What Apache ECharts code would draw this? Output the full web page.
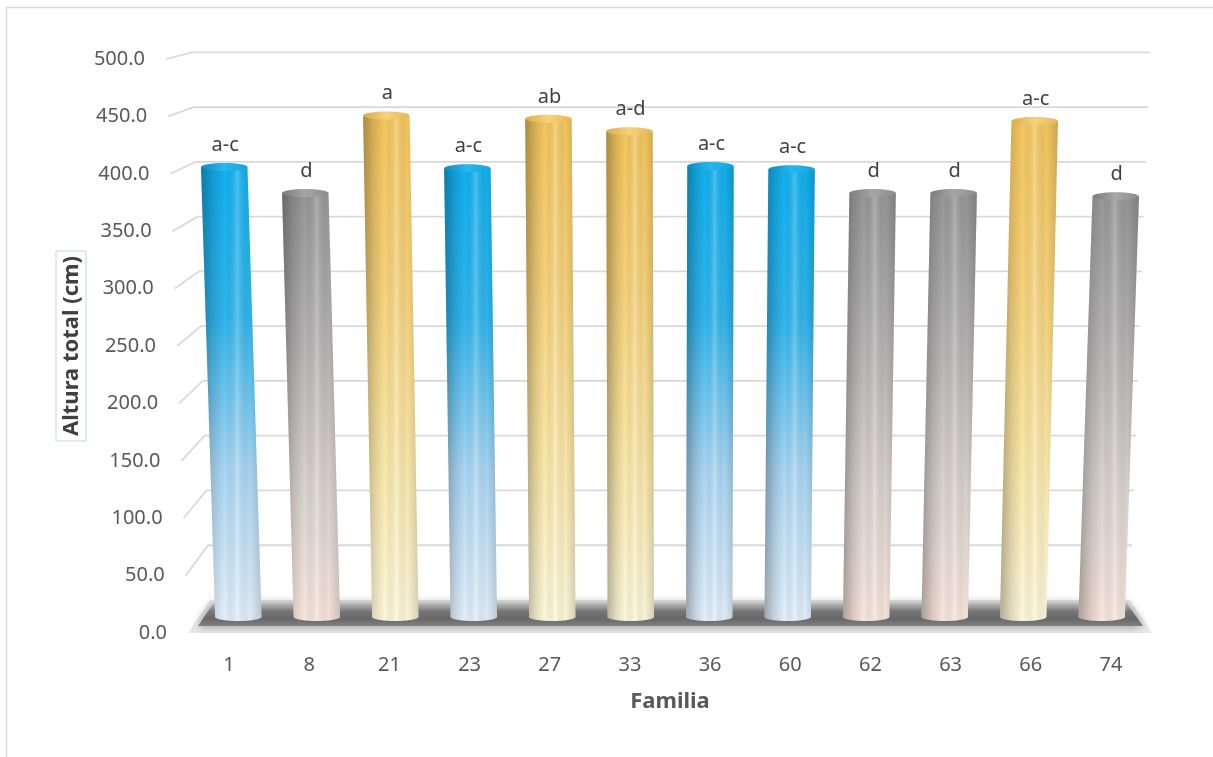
<!DOCTYPE html>
<html>
<head>
<meta charset="utf-8">
<script src="https://cdn.jsdelivr.net/npm/echarts@6/dist/echarts.min.js"></script>
<style>
  html, body { margin: 0; padding: 0; background: #ffffff; }
  #chart { width: 1213px; height: 757px; }
</style>
</head>
<body>
<div id="chart"></div>
<script>
// Altura total por familia, con letras de agrupamiento estadístico
const familias = ['1', '8', '21', '23', '27', '33', '36', '60', '62', '63', '66', '74'];
const alturas  = [401, 378, 447, 400, 444, 433, 402, 399, 378, 378, 442, 375];
const letras   = ['a-c', 'd', 'a', 'a-c', 'ab', 'a-d', 'a-c', 'a-c', 'd', 'd', 'a-c', 'd'];
const yTicks   = [0, 50, 100, 150, 200, 250, 300, 350, 400, 450, 500];

const FONT = '"Noto Sans", "Liberation Sans", sans-serif';
const Y_MAX = yTicks[yTicks.length - 1];

// Colour tiers by height: tallest gold, middle blue, shortest grey
const PALETTES = {
  gold: { body: ['#f4c65c', '#f7d27a', '#fae7a6', '#fdf8da'], top: ['#dcab48', '#f6d27a', '#e6b855'] },
  blue: { body: ['#10b0ee', '#2fb5ed', '#a9d6f4', '#e3f0fb'], top: ['#0d8cc0', '#25b8f0', '#1aa0d8'] },
  grey: { body: ['#969696', '#b3b1b1', '#d7d1cf', '#f8e6dc'], top: ['#7c7c7c', '#a6a6a6', '#8c8c8c'] }
};
function tier(v) {
  return v >= 430 ? PALETTES.gold : (v >= 390 ? PALETTES.blue : PALETTES.grey);
}

function grad(x2, y2, stops) {
  return new echarts.graphic.LinearGradient(0, 0, x2, y2,
    stops.map((c, i) => ({ offset: i / (stops.length - 1), color: c })));
}
const vGrad = stops => grad(0, 1, stops);
const hGrad = stops => grad(1, 0, stops);

// Perspective helpers: front edge, back wall and floor derived from the front axis
function planeAt(api, v) {
  const p = api.coord([0, v]);
  const p0 = api.coord([0, 0]);
  const pTop = api.coord([0, Y_MAX]);
  const band = api.size([1, 0])[0];
  const last = api.coord([familias.length - 1, v]);
  const frac = (p0[1] - p[1]) / (p0[1] - pTop[1]);
  const xF = p[0] - band / 2 - 1 - 22 * frac;
  const yF = p[1];
  const xB = xF + 22 + 4 * frac;
  const yB = yF - (33 - 26.3 * frac);
  const xR = last[0] + band / 2 - 21 + 20 * frac;
  const xFR = last[0] + band / 2 + 1;
  return { xF, yF, xB, yB, xR, xFR };
}

function renderGridLine(params, api) {
  const v = api.value(1);
  const g = planeAt(api, v);
  const children = [];
  if (v > 0) {
    children.push({
      type: 'polyline',
      shape: { points: [[g.xF, g.yF], [g.xB, g.yB], [g.xR, g.yB]] },
      style: { stroke: '#d9d9d9', lineWidth: 1.8, fill: null }
    });
  }
  children.push({
    type: 'text',
    style: {
      text: v.toFixed(1), x: g.xF - 21, y: g.yF,
      align: 'right', verticalAlign: 'middle',
      fill: '#595959', fontSize: 20, fontFamily: FONT
    }
  });
  return { type: 'group', children };
}

function renderFloor(params, api) {
  const g = planeAt(api, 0);
  const outer = [[g.xF, g.yF], [g.xFR, g.yF], [g.xR, g.yB], [g.xB, g.yB]];
  const inner = [[g.xF + 10, g.yF - 7], [g.xFR - 9, g.yF - 7], [g.xR - 3, g.yB + 4], [g.xB + 3, g.yB + 4]];
  return {
    type: 'group',
    children: [
      { type: 'polygon', shape: { points: outer },
        style: { fill: '#e8e8e8' } },
      { type: 'polygon', shape: { points: inner },
        style: { fill: vGrad(['#b4b4b4', '#767676', '#686868', '#808080']),
                 shadowBlur: 10, shadowColor: 'rgba(100,100,100,0.7)' } }
    ]
  };
}

function renderBar(params, api) {
  const i = api.value(0);
  const v = api.value(1);
  const base = api.coord([i, 0]);
  const top = api.coord([i, v]);
  const band = api.size([1, 0])[0];
  const first = api.coord([0, 0])[0];
  const last = api.coord([familias.length - 1, 0])[0];
  const mid = (first + last) / 2;
  const off = base[0] - mid;
  const xb = base[0] - off * 0.021;
  const xt = base[0] + off * 0.011;
  const yb = base[1];
  const yt = top[1];
  const hw = band * 0.29;
  const ry = 4;
  const pts = [[xt - hw, yt], [xb - hw, yb]];
  const N = 18;
  for (let k = 1; k < N; k++) {
    const a = Math.PI - Math.PI * k / N;
    pts.push([xb + hw * Math.cos(a), yb + ry * Math.sin(a)]);
  }
  pts.push([xb + hw, yb], [xt + hw, yt]);
  const pal = tier(v);
  return {
    type: 'group',
    children: [
      { type: 'polygon', shape: { points: pts }, style: { fill: vGrad(pal.body) } },
      { type: 'polygon', shape: { points: pts },
        style: { fill: hGrad(['rgba(0,0,0,0.30)', 'rgba(0,0,0,0.12)', 'rgba(0,0,0,0.0)',
                              'rgba(255,255,255,0.22)', 'rgba(0,0,0,0.02)', 'rgba(0,0,0,0.16)']) } },
      { type: 'ellipse', shape: { cx: xt, cy: yt, rx: hw, ry: ry },
        style: { fill: hGrad(pal.top) } },
      { type: 'text',
        style: { text: letras[i], x: xt + 1, y: yt - 22, align: 'center', verticalAlign: 'middle',
                 fill: '#404040', fontSize: 20, fontFamily: FONT } }
    ]
  };
}

const chart = echarts.init(document.getElementById('chart'), null, { renderer: 'canvas' });

chart.setOption({
  animation: false,
  backgroundColor: '#ffffff',
  graphic: [{
    type: 'rect', silent: true, z: -10,
    shape: { x: 6.5, y: 7.5, width: 1300, height: 800 },
    style: { fill: null, stroke: '#d9d9d9', lineWidth: 1.5 }
  }],
  grid: [
    { left: 189, right: 62, top: 59, bottom: 124 },
    { left: 189, right: 62, top: 56, bottom: 140 }
  ],
  xAxis: [
    {
      gridIndex: 0, type: 'category', data: familias,
      axisLine: { show: false }, axisTick: { show: false }, splitLine: { show: false },
      axisLabel: { color: '#595959', fontSize: 20, fontFamily: FONT, margin: 22 },
      name: 'Familia', nameLocation: 'middle', nameGap: 58,
      nameTextStyle: { color: '#595959', fontSize: 22, fontWeight: 'bold', fontFamily: FONT }
    },
    { gridIndex: 1, type: 'category', data: familias, show: false }
  ],
  yAxis: [
    {
      gridIndex: 0, type: 'value', min: 0, max: Y_MAX, interval: 50,
      axisLine: { show: false }, axisTick: { show: false },
      axisLabel: { show: false }, splitLine: { show: false },
      name: 'Altura total (cm)', nameLocation: 'middle', nameRotate: 90, nameGap: 103,
      nameTextStyle: {
        color: '#404040', fontSize: 22, fontWeight: 'bold', fontFamily: FONT,
        borderColor: '#c6d3ea', borderWidth: 1, padding: [5, 5, 3, 5]
      }
    },
    { gridIndex: 1, type: 'value', min: 0, max: Y_MAX, show: false }
  ],
  series: [
    {
      type: 'custom', name: 'piso', xAxisIndex: 0, yAxisIndex: 0, z: 1, silent: true,
      renderItem: renderFloor, data: [[0, 0]]
    },
    {
      type: 'custom', name: 'rejilla', xAxisIndex: 0, yAxisIndex: 0, z: 2, silent: true,
      renderItem: renderGridLine, data: yTicks.map(v => [0, v])
    },
    {
      type: 'custom', name: 'Altura total', xAxisIndex: 1, yAxisIndex: 1, z: 3, silent: true,
      renderItem: renderBar, data: alturas.map((v, i) => [i, v])
    }
  ]
});
</script>
</body>
</html>
